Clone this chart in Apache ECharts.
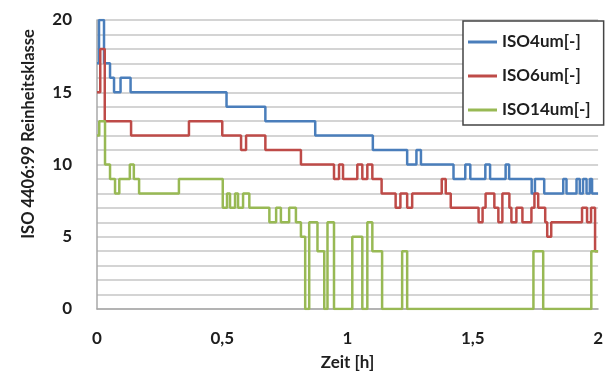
<!DOCTYPE html>
<html>
<head>
<meta charset="utf-8">
<script src="https://cdn.jsdelivr.net/npm/echarts@6/dist/echarts.min.js"></script>
<style>
	html, body { margin: 0; padding: 0; background: #fff; }
	#chart { width: 606px; height: 376px; }
</style>
</head>
<body>
<div id="chart"></div>
<script>
// Zeitpunkte [h] der Stufenwechsel und die neue Klasse ab diesem Zeitpunkt
var timeIso4 = [0, 0.008, 0.028, 0.052, 0.068, 0.094, 0.134, 0.517, 0.672, 0.871, 1.101, 1.238, 1.275, 1.293, 1.423, 1.470, 1.490, 1.550, 1.569, 1.631, 1.645, 1.735, 1.748, 1.785, 1.861, 1.874, 1.914, 1.927, 1.940, 1.954, 1.967, 1.976, 2.0];
var valIso4 = [17, 20, 17, 16, 15, 16, 15, 14, 13, 12, 11, 10, 11, 10, 9, 10, 9, 10, 9, 10, 9, 8, 9, 8, 9, 8, 9, 8, 9, 8, 9, 8, 8];

var timeIso6 = [0, 0.013, 0.031, 0.136, 0.367, 0.500, 0.575, 0.595, 0.672, 0.814, 0.946, 0.966, 0.982, 1.039, 1.059, 1.079, 1.099, 1.136, 1.192, 1.211, 1.238, 1.258, 1.376, 1.392, 1.412, 1.523, 1.539, 1.551, 1.586, 1.602, 1.618, 1.646, 1.654, 1.674, 1.698, 1.734, 1.746, 1.761, 1.789, 1.797, 1.813, 1.936, 1.956, 1.972, 1.988, 2.0];
var valIso6 = [15, 18, 13, 12, 13, 12, 11, 12, 11, 10, 9, 10, 9, 10, 9, 10, 9, 8, 7, 8, 7, 8, 9, 8, 7, 6, 7, 8, 7, 6, 8, 7, 6, 7, 6, 7, 8, 7, 6, 5, 6, 7, 6, 7, 4, 4];

var timeIso14 = [0, 0.009, 0.032, 0.052, 0.072, 0.089, 0.131, 0.147, 0.168, 0.327, 0.502, 0.519, 0.531, 0.551, 0.563, 0.583, 0.608, 0.688, 0.715, 0.734, 0.767, 0.794, 0.814, 0.831, 0.847, 0.880, 0.907, 0.920, 0.946, 1.019, 1.059, 1.079, 1.099, 1.138, 1.218, 1.238, 1.742, 1.781, 1.973, 2.0];
var valIso14 = [12, 13, 10, 9, 8, 9, 10, 9, 8, 9, 7, 8, 7, 8, 7, 8, 7, 6, 7, 6, 7, 6, 5, 0, 6, 4, 0, 6, 0, 5, 0, 6, 4, 0, 4, 0, 4, 0, 4, 4];

var seriesNames = ["ISO4um[-]", "ISO6um[-]", "ISO14um[-]"];
var seriesColors = ["#4a7ebb", "#be4b48", "#98b954"];
var xTicks = [0, 0.5, 1, 1.5, 2];
var yTicks = [0, 5, 10, 15, 20];

function pairs(t, v) {
	return t.map(function (x, i) {
		return [x, v[i]];
	});
}

var font = "Lato";
var textColor = "#1e1e1e";

var myChart = echarts.init(document.getElementById("chart"), null, {
	renderer: "canvas"
});

var lists = [
	pairs(timeIso4, valIso4),
	pairs(timeIso6, valIso6),
	pairs(timeIso14, valIso14)
];

var option = {
	backgroundColor: "#fff",
	animation: false,
	grid: {
		left: 97,
		right: 5,
		top: 20,
		bottom: 64
	},
	legend: {
		orient: "vertical",
		left: 463,
		top: 21,
		padding: [11, 13, 5, 5],
		itemGap: 14,
		itemWidth: 29,
		itemHeight: 3,
		icon: "rect",
		borderColor: "#444",
		borderWidth: 1.5,
		backgroundColor: "#fff",
		textStyle: {
			fontFamily: font,
			fontWeight: "bold",
			fontSize: 17,
			lineHeight: 20,
			color: textColor
		},
		data: seriesNames
	},
	xAxis: {
		type: "value",
		min: 0,
		max: 2,
		interval: 0.5,
		name: "Zeit [h]",
		nameLocation: "middle",
		nameGap: 45,
		nameTextStyle: {
			fontFamily: font,
			fontWeight: "bold",
			fontSize: 17,
			color: textColor
		},
		axisLine: { show: true, lineStyle: { color: "#a8a8a8", width: 1.5 } },
		axisTick: { show: false },
		splitLine: { show: false },
		axisLabel: {
			margin: 21,
			fontFamily: font,
			fontWeight: "bold",
			fontSize: 17,
			color: textColor,
			formatter: function (v) {
				return xTicks.indexOf(v) >= 0 ? String(v).replace(".", ",") : "";
			}
		}
	},
	yAxis: {
		type: "value",
		min: 0,
		max: 20,
		interval: 1,
		axisLine: { show: true, lineStyle: { color: "#a8a8a8", width: 1.5 } },
		axisTick: { show: false },
		splitLine: { show: true, lineStyle: { color: "#c6c6c6", width: 1.5 } },
		axisLabel: {
			margin: 25,
			fontFamily: font,
			fontWeight: "bold",
			fontSize: 17,
			color: textColor,
			formatter: function (v) {
				return yTicks.indexOf(v) >= 0 ? String(v) : "";
			}
		}
	},
	// Achsentitel links, etwas nach oben versetzt wie im Original
	graphic: [
		{
			type: "text",
			x: 29,
			y: 134,
			rotation: Math.PI / 2,
			style: {
				text: "ISO 4406:99 Reinheitsklasse",
				font: "bold 16.5px Lato",
				fill: textColor,
				align: "center",
				verticalAlign: "middle",
				textAlign: "center",
				textVerticalAlign: "middle"
			}
		}
	],
	series: lists.map(function (d, i) {
		return {
			name: seriesNames[i],
			type: "line",
			step: "end",
			symbol: "none",
			data: d,
			color: seriesColors[i],
			lineStyle: { width: 2.5, color: seriesColors[i] }
		};
	})
};
myChart.setOption(option);
</script>
</body>
</html>
